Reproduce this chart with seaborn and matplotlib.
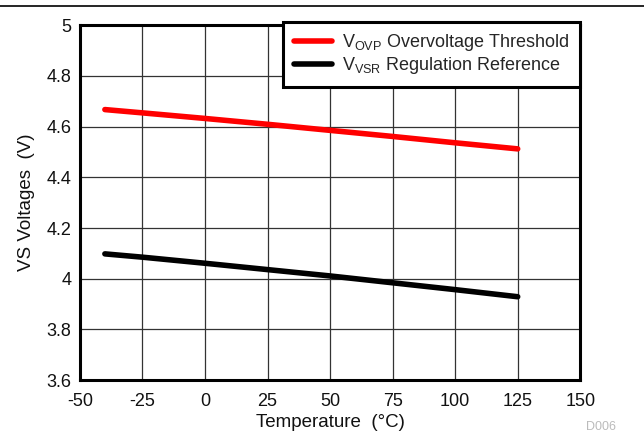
import matplotlib
matplotlib.use("Agg")
import matplotlib.pyplot as plt
from matplotlib.lines import Line2D
import numpy as np
import pandas as pd
import seaborn as sns

# Data
temperature = [-40, -25, 0, 25, 50, 75, 100, 125]
v_ovp = [4.667, 4.654, 4.632, 4.609, 4.585, 4.561, 4.536, 4.512]
v_vsr = [4.098, 4.085, 4.061, 4.036, 4.011, 3.984, 3.957, 3.929]
series_labels = [r"V$_{\mathrm{OVP}}$ Overvoltage Threshold",
                 r"V$_{\mathrm{VSR}}$ Regulation Reference"]
x_ticks = [-50, -25, 0, 25, 50, 75, 100, 125, 150]
y_ticks = [3.6, 3.8, 4.0, 4.2, 4.4, 4.6, 4.8, 5.0]
y_tick_labels = ["3.6", "3.8", "4", "4.2", "4.4", "4.6", "4.8", "5"]

sns.set_theme(style="white")
plt.rcParams["font.family"] = ["Liberation Sans", "DejaVu Sans"]
plt.rcParams["mathtext.fontset"] = "custom"
plt.rcParams["mathtext.rm"] = "Liberation Sans"
plt.rcParams["mathtext.it"] = "Liberation Sans:italic"

df = pd.DataFrame({
    "Temperature": temperature * 2,
    "Voltage": v_ovp + v_vsr,
    "Series": [series_labels[0]] * len(temperature) + [series_labels[1]] * len(temperature),
})

fig = plt.figure(figsize=(6.44, 4.33), dpi=100)
ax = fig.add_axes([0.124, 0.122, 0.777, 0.820])

sns.lineplot(data=df, x="Temperature", y="Voltage", hue="Series",
             palette=["#ff0000", "#000000"], linewidth=4, ax=ax, legend=True)

ax.set_xlim(-50, 150)
ax.set_ylim(3.6, 5.0)
ax.set_xticks(x_ticks)
ax.set_xticklabels([str(t) for t in x_ticks])
ax.set_yticks(y_ticks)
ax.set_yticklabels(y_tick_labels)
ax.grid(True, color="#333333", linewidth=0.9)
ax.set_axisbelow(True)
ax.tick_params(axis="y", length=0, labelsize=13, colors="#111111", pad=6)
ax.tick_params(axis="x", length=0, labelsize=13, colors="#111111", pad=9)
for sp in ax.spines.values():
    sp.set_color("black")
    sp.set_linewidth(2.2)

ax.set_xlabel("Temperature  (°C)", fontsize=13.5, color="#111111", labelpad=3)
ax.set_ylabel("VS Voltages  (V)", fontsize=13.5, color="#111111", labelpad=8)

leg = ax.legend(loc="upper right", fontsize=13, frameon=True, fancybox=False,
                borderpad=0.6, handlelength=2.1, handletextpad=0.55,
                labelspacing=0.1, borderaxespad=0.0,
                bbox_to_anchor=(1.0, 1.01))
leg.get_frame().set_edgecolor("black")
leg.get_frame().set_linewidth(2.2)
leg.get_frame().set_alpha(1)
for h in leg.get_lines():
    h.set_linewidth(4)

# thin rule across the top of the figure
fig.add_artist(Line2D([0, 1], [0.985, 0.985], transform=fig.transFigure,
                      color="black", linewidth=1.2))
fig.text(0.91, 0.0, "D006", fontsize=9, color="#bbbbbb", ha="left", va="bottom")

fig.savefig("out.png", dpi=100)
